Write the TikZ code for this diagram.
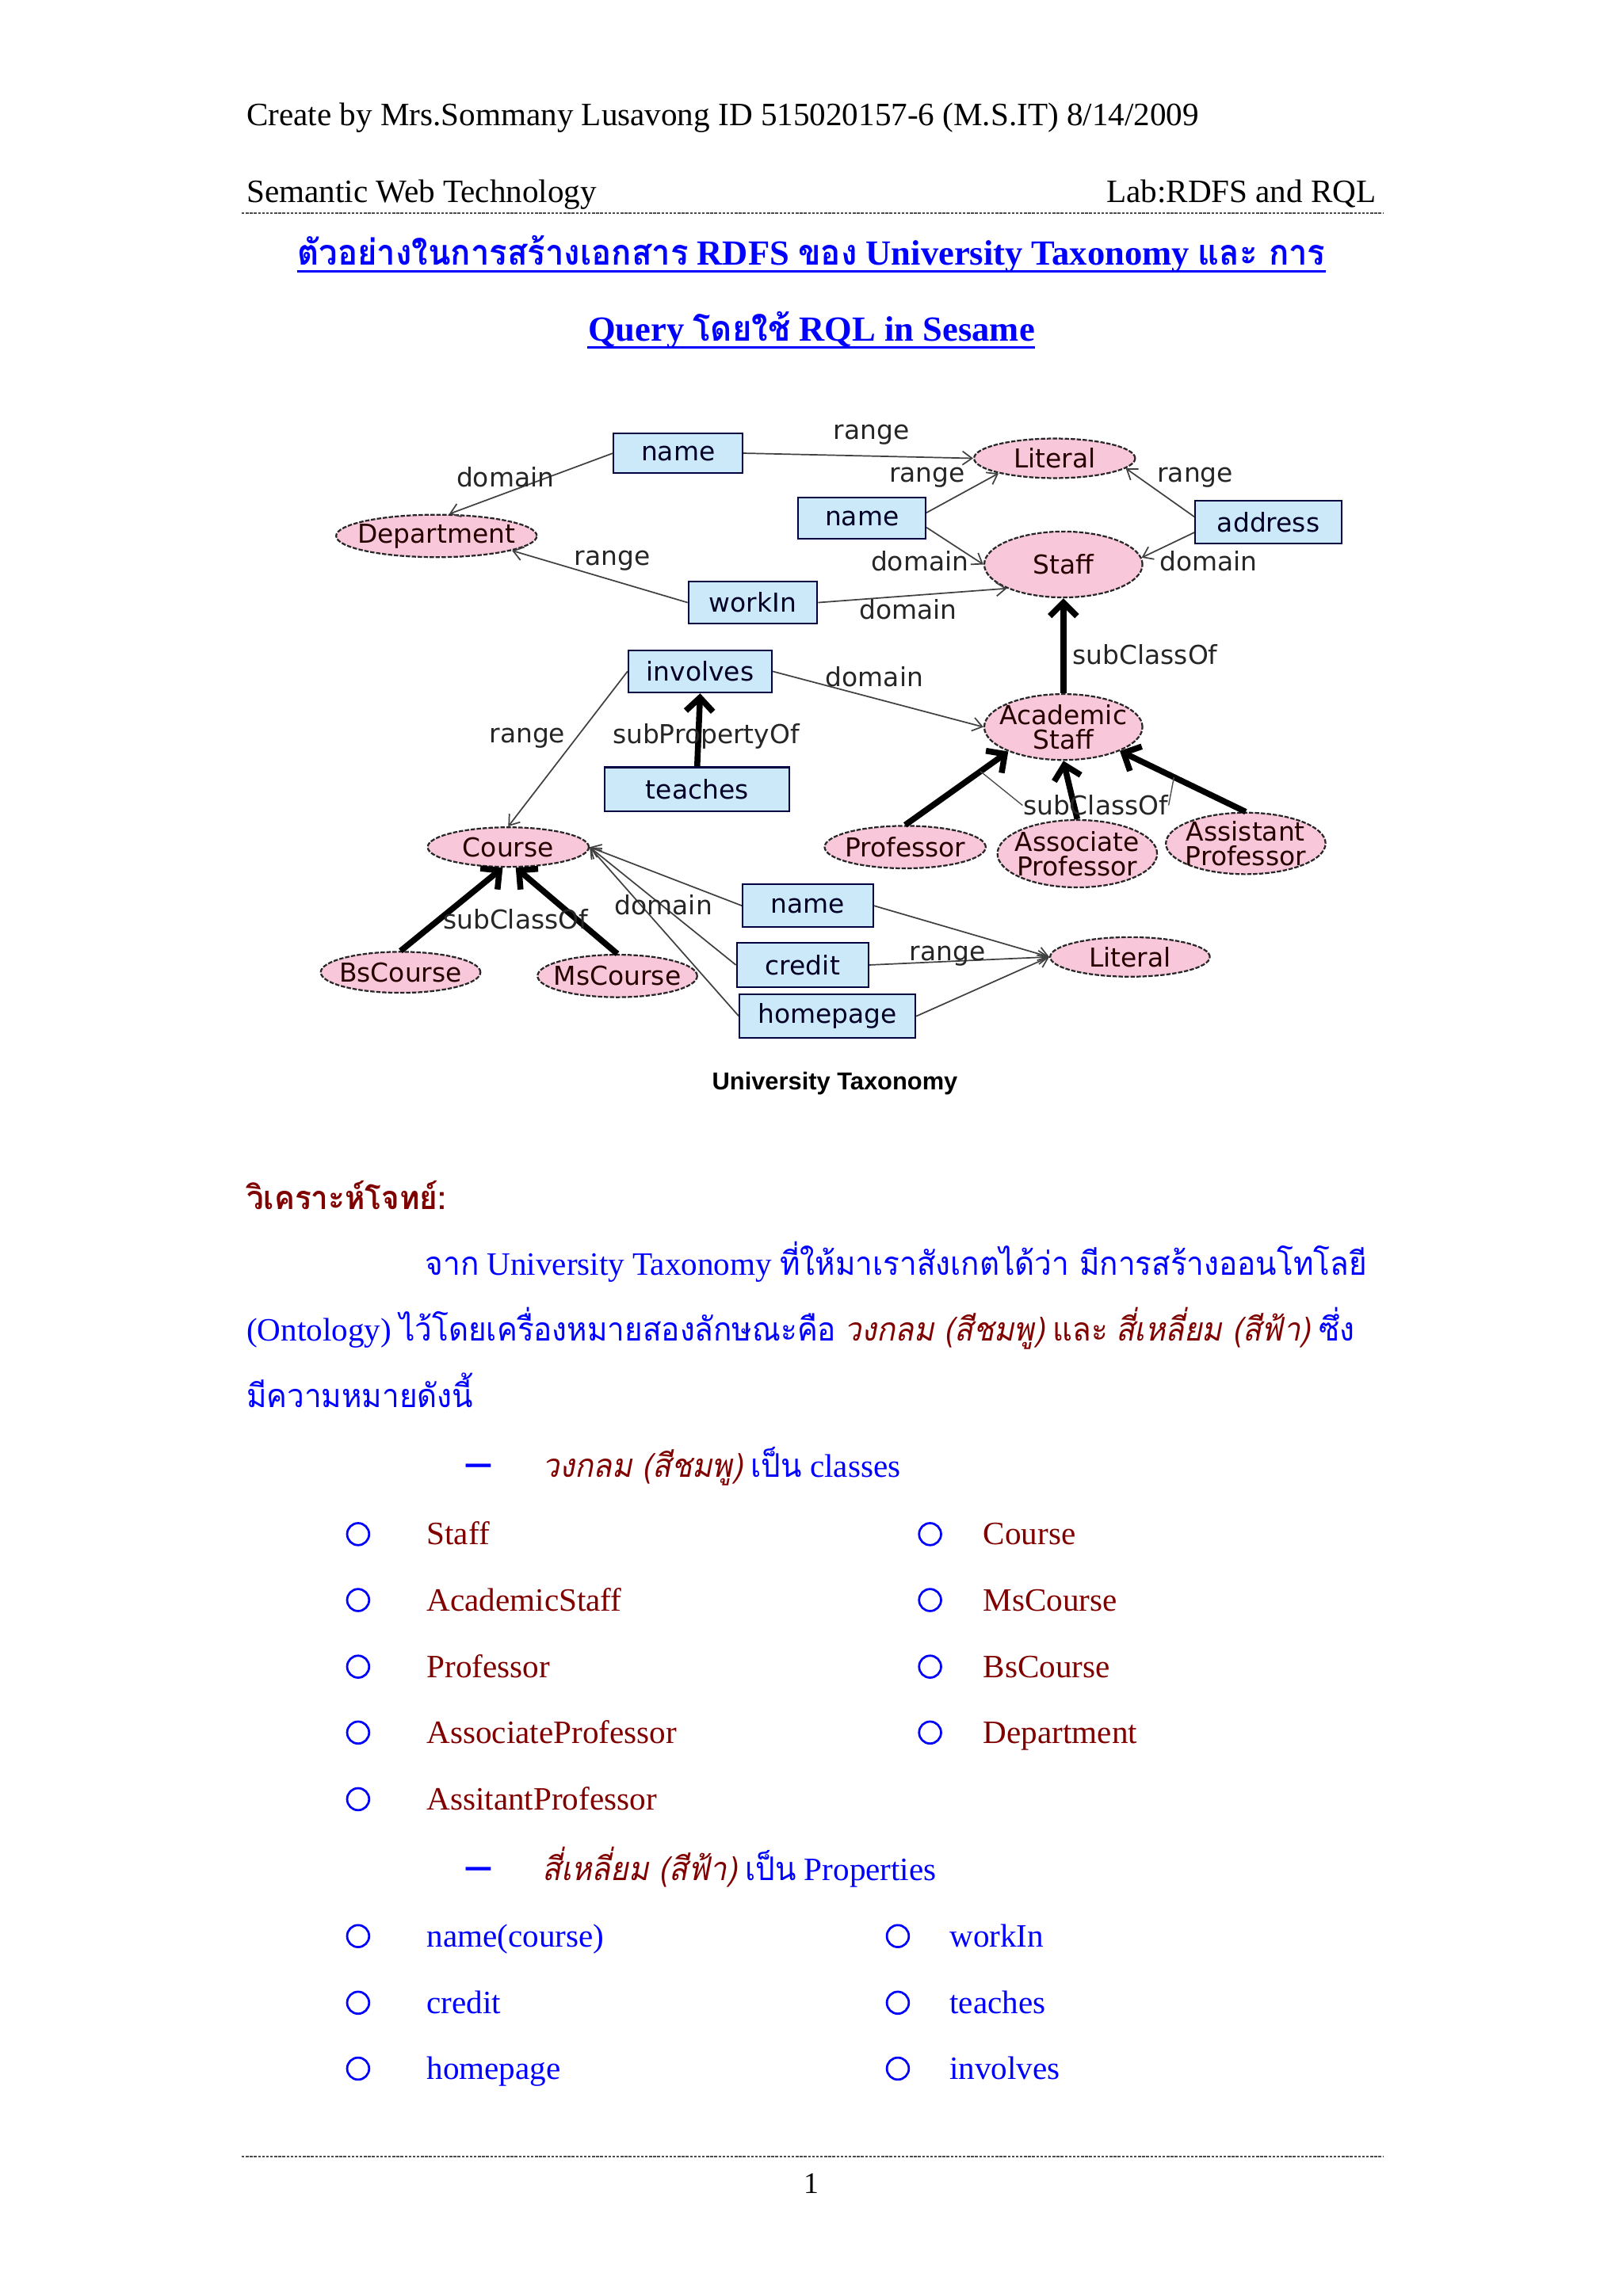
\documentclass[tikz,border=0pt]{standalone}
\usepackage{fontspec}
\setmainfont{Liberation Serif}
\newfontfamily\thaifont[Script=Thai, FakeStretch=0.94]{Loma}
\newfontfamily\diafont{DejaVu Sans}
\newfontfamily\capfont{Liberation Sans}
\usetikzlibrary{arrows.meta, shapes.geometric}
\definecolor{docblue}{RGB}{0,0,255}
\definecolor{docred}{RGB}{128,0,0}
\definecolor{propfill}{RGB}{204,233,250}
\definecolor{clsfill}{RGB}{248,200,218}
\newcommand\spx{0.018953cm}
\newcommand\tha[1]{{\thaifont #1}}
\begin{document}
\begin{tikzpicture}[x=0.018953cm, y=-0.018953cm,
    txt/.style={inner sep=0pt, anchor=base west, font=\fontsize{12}{14}\selectfont},
    title/.style={inner sep=0pt, anchor=base, text=docblue, font=\bfseries\fontsize{13}{15}\selectfont},
    dashmark/.style={inner sep=0pt, anchor=base west, text=docblue, font=\bfseries\fontsize{18}{20}\selectfont},
    prop/.style={draw=black!75!blue, line width=0.6pt, fill=propfill, inner sep=0pt,
        minimum height=29*\spx, font=\diafont\fontsize{9.6}{11}\selectfont, text=black!85!blue},
    cls/.style={ellipse, draw=black!85, dash pattern=on 1.6pt off 0.6pt, line width=0.65pt,
        fill=clsfill, inner sep=0pt},
    clslbl/.style={inner sep=0pt, align=center, font=\diafont\fontsize{9.6}{9.2}\selectfont, text=black!85!red},
    lbl/.style={inner sep=0pt, font=\diafont\fontsize{9.6}{11}\selectfont, text=black!85},
    rel/.style={draw=black!75, line width=0.5pt, -{Straight Barb[length=3.5pt,width=5pt]}},
    subc/.style={draw=black, line width=2.2pt, -{Straight Barb[length=5pt,width=10pt]}},
    leader/.style={draw=black!70, line width=0.4pt},
    bul/.style={circle, draw=docblue, line width=0.8pt, minimum size=15*\spx, inner sep=0pt},
    rule/.style={draw=black!70, line width=0.6pt, dash pattern=on 1pt off 0.5pt}]

    \fill[white] (0,0) rectangle (1108,1568);
    \useasboundingbox (0,0) rectangle (1108,1568);

    % page header
    \node[txt] (hdr) at (168,86) {Create by Mrs.Sommany Lusavong ID 515020157-6 (M.S.IT) 8/14/2009};
    \node[txt] (subject) at (168,138) {Semantic Web Technology};
    \node[txt, anchor=base east] (lab) at (940,138) {Lab:RDFS and RQL};
    \draw[rule] (165,145.5) -- (944,145.5);

    % title
    \node[title] (t1) at (554,181) {\tha{ตัวอย่างในการสร้างเอกสาร} RDFS \tha{ของ} University Taxonomy \tha{และ การ}};
    \node[title] (t2) at (554,233) {Query \tha{โดยใช้} RQL in Sesame};
    \draw[docblue, line width=0.9pt] ([yshift=-2.2pt]t1.base west) -- ([yshift=-2.2pt]t1.base east);
    \draw[docblue, line width=0.9pt] ([yshift=-2.2pt]t2.base west) -- ([yshift=-2.2pt]t2.base east);

    % properties (boxes)
    \node[prop, minimum width=88*\spx, minimum height=27*\spx] (name1) at (463,309.5) {name};
    \node[prop, minimum width=87*\spx, minimum height=28*\spx] (name2) at (588.5,354) {name};
    \node[prop, minimum width=100*\spx] (addr) at (866,356.5) {address};
    \node[prop, minimum width=88*\spx] (workin) at (514,411.5) {workIn};
    \node[prop, minimum width=98*\spx] (involves) at (478,458.5) {involves};
    \node[prop, minimum width=126*\spx, minimum height=30*\spx] (teaches) at (476,539) {teaches};
    \node[prop, minimum width=89*\spx] (name3) at (551.5,618.5) {name};
    \node[prop, minimum width=90*\spx, minimum height=30*\spx] (credit) at (548,659) {credit};
    \node[prop, minimum width=120*\spx, minimum height=30*\spx] (homepage) at (565,694) {homepage};

    % classes (ellipses)
    \node[cls, minimum width=110*\spx, minimum height=27*\spx, label={[clslbl]center:Literal}] (lit1) at (720,313) {};
    \node[cls, minimum width=137*\spx, minimum height=29*\spx, label={[clslbl]center:Department}] (dept) at (298,366) {};
    \node[cls, minimum width=108*\spx, minimum height=45*\spx, label={[clslbl]center:Staff}] (staff) at (726,385.5) {};
    \node[cls, minimum width=108*\spx, minimum height=45*\spx, label={[clslbl]center:Academic\\Staff}] (acad) at (726,496.5) {};
    \node[cls, minimum width=110*\spx, minimum height=27*\spx, label={[clslbl]center:Course}] (course) at (347,578.5) {};
    \node[cls, minimum width=110*\spx, minimum height=29*\spx, label={[clslbl]center:Professor}] (prof) at (618,578.5) {};
    \node[cls, minimum width=109*\spx, minimum height=46*\spx, label={[clslbl]center:Associate\\Professor}] (assoc) at (735.5,583) {};
    \node[cls, minimum width=109*\spx, minimum height=42*\spx, label={[clslbl]center:Assistant\\Professor}] (asst) at (850.5,576) {};
    \node[cls, minimum width=109*\spx, minimum height=28*\spx, label={[clslbl]center:BsCourse}] (bscourse) at (273.5,664) {};
    \node[cls, minimum width=109*\spx, minimum height=29*\spx, label={[clslbl]center:MsCourse}] (mscourse) at (421.5,666.5) {};
    \node[cls, minimum width=109*\spx, minimum height=27*\spx, label={[clslbl]center:Literal}] (lit2) at (771.5,653.5) {};

    % domain and range
    \draw[rel] (name1.west) -- (dept.60);
    \draw[rel] (name1.east) -- (lit1.west);
    \draw[rel] (name2.5) -- (lit1.195);
    \draw[rel] (name2.352) -- (staff.west);
    \draw[rel] (addr.176) -- (lit1.352);
    \draw[rel] (addr.188) -- (staff.5);
    \draw[rel] (workin.west) -- (dept.349);
    \draw[rel] (workin.east) -- (staff.203);
    \draw[rel] (involves.east) -- (acad.west);
    \draw[rel] (involves.west) -- (course.north);
    \draw[rel] (name3.west) -- (course.east);
    \draw[rel] (credit.west) -- (course.east);
    \draw[rel] (homepage.west) -- (course.east);
    \draw[rel] (name3.east) -- (lit2.west);
    \draw[rel] (credit.east) -- (lit2.west);
    \draw[rel] (homepage.east) -- (lit2.west);

    % subClassOf / subPropertyOf
    \draw[subc] (acad.north) -- (staff.south);
    \draw[subc] (teaches.north) -- (involves.south);
    \draw[subc] (prof.north) -- coordinate[pos=.73] (profmid) (acad.204);
    \draw[subc] (assoc.north) -- (acad.south);
    \draw[subc] (asst.north) -- coordinate[pos=.57] (asstmid) (acad.337);
    \draw[subc] (bscourse.north) -- (course.255);
    \draw[subc] (mscourse.north) -- (course.290);

    % edge labels
    \node[lbl] (lbd1) at (345,326) {domain};
    \node[lbl] (lbr1) at (595,297) {range};
    \node[lbl] (lbr2) at (633,326) {range};
    \node[lbl] (lbd2) at (628,383) {domain};
    \node[lbl] (lbr3) at (816,326) {range};
    \node[lbl] (lbd3) at (825,383) {domain};
    \node[lbl] (lbr4) at (418,383) {range};
    \node[lbl] (lbd4) at (620,416) {domain};
    \node[lbl, anchor=west] (lbs1) at (732,447) {subClassOf};
    \node[lbl] (lbd5) at (597,462) {domain};
    \node[lbl] (lbr5) at (360,504) {range};
    \node[lbl] (lbsp) at (482,503) {subPropertyOf};
    \node[lbl] (lbs2) at (748,550) {subClassOf};
    \node[lbl] (lbs3) at (352,628) {subClassOf};
    \node[lbl] (lbd6) at (453,618) {domain};
    \node[lbl] (lbr6) at (647,653) {range};
    \draw[leader] (lbs2.west) -- (profmid);
    \draw[leader] (lbs2.east) -- (asstmid);

    \node[font=\capfont\bfseries\fontsize{9}{11}\selectfont, inner sep=0pt] (caption) at (570,740) {University Taxonomy};

    % analysis text
    \node[txt, text=docred, font=\bfseries\fontsize{12}{14}\selectfont] (analysis) at (168,826) {\tha{วิเคราะห์โจทย์:}};
    \node[txt, text=docblue] (para1) at (290,871) {\tha{จาก} University Taxonomy \tha{ที่ให้มาเราสังเกตได้ว่า มีการสร้างออนโทโลยี}};
    \node[txt, text=docblue] (para2) at (168,916) {(Ontology) \tha{ไว้โดยเครื่องหมายสองลักษณะคือ} \textcolor{docred}{\tha{\itshape วงกลม (สีชมพู)} \tha{และ} \tha{\itshape สี่เหลี่ยม (สีฟ้า)}} \tha{ซึ่ง}};
    \node[txt, text=docblue] (para3) at (168,961) {\tha{มีความหมายดังนี้}};

    % classes list
    \node[dashmark] (dash1) at (318,1009) {–};
    \node[txt, text=docblue] (clsintro) at (370,1009) {\textcolor{docred}{\tha{\itshape วงกลม (สีชมพู)}} \tha{เป็น} classes};
    \foreach \y/\w [count=\i] in {1055/Staff, 1100/AcademicStaff, 1145.5/Professor, 1190.5/AssociateProfessor, 1236/AssitantProfessor} {
        \node[bul] (cbl\i) at (244.5,\y-7.3) {};
        \node[txt, text=docred] (cl\i) at (291,\y) {\w};
    }
    \foreach \y/\w [count=\i] in {1055/Course, 1100/MsCourse, 1145.5/BsCourse, 1190.5/Department} {
        \node[bul] (cbr\i) at (635,\y-7.3) {};
        \node[txt, text=docred] (cr\i) at (671,\y) {\w};
    }

    % properties list
    \node[dashmark] (dash2) at (318,1284) {–};
    \node[txt, text=docblue] (propintro) at (370,1284) {\textcolor{docred}{\tha{\itshape สี่เหลี่ยม (สีฟ้า)}} \tha{เป็น} Properties};
    \foreach \y/\w [count=\i] in {1329.5/name(course), 1375/credit, 1420/homepage} {
        \node[bul] (pbl\i) at (244.5,\y-7.3) {};
        \node[txt, text=docblue] (pl\i) at (291,\y) {\w};
    }
    \foreach \y/\w [count=\i] in {1329.5/workIn, 1375/teaches, 1420/involves} {
        \node[bul] (pbr\i) at (613,\y-7.3) {};
        \node[txt, text=docblue] (pr\i) at (648,\y) {\w};
    }

    % footer
    \draw[rule] (165,1473) -- (944,1473);
    \node[txt, anchor=base, font=\fontsize{11}{13}\selectfont] (pgno) at (554,1498) {1};
\end{tikzpicture}
\end{document}
